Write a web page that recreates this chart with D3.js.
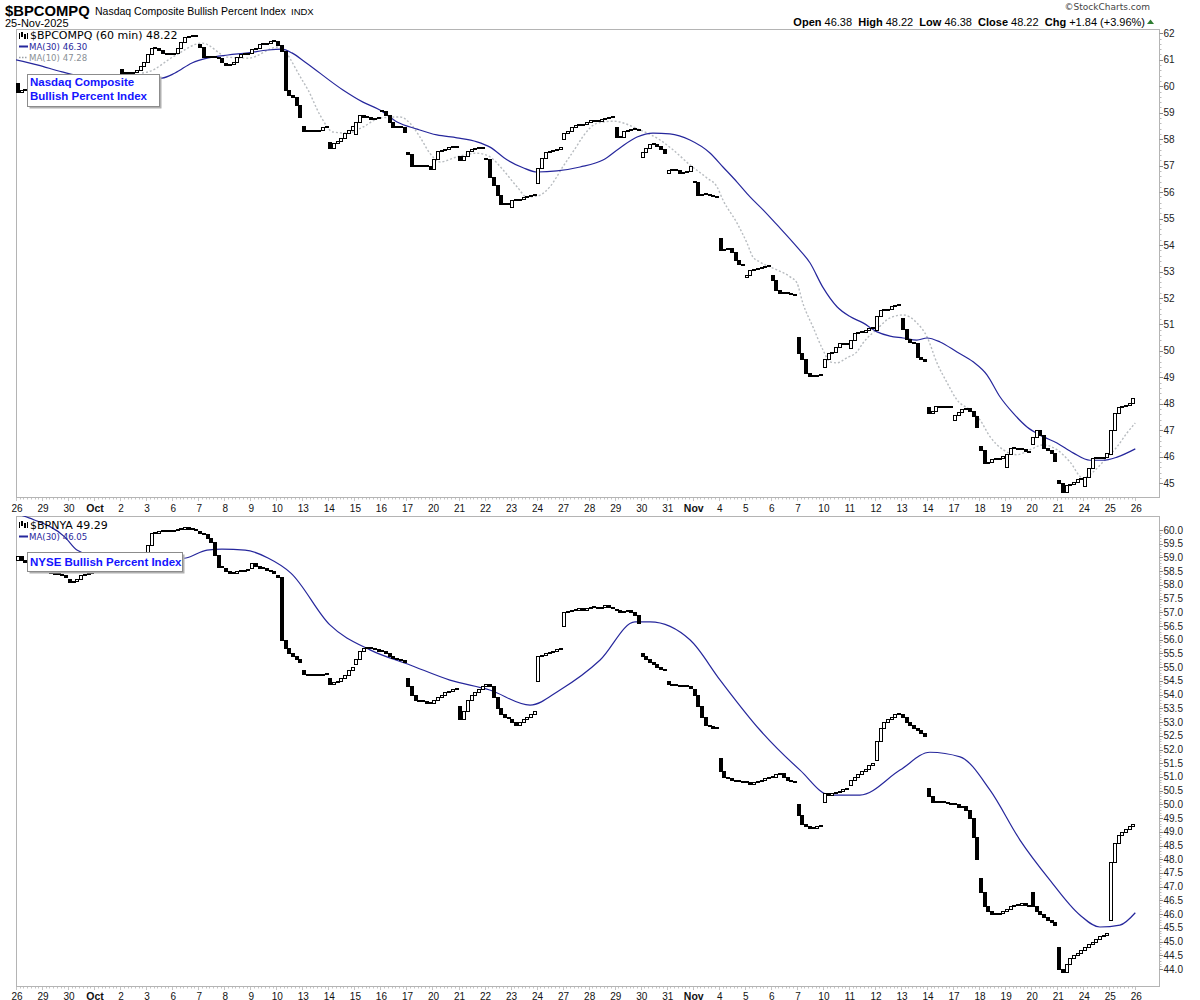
<!DOCTYPE html>
<html><head><meta charset="utf-8">
<script src="https://cdn.jsdelivr.net/npm/d3@7"></script>
<style>
body{margin:0;background:#fff;}
svg{display:block;}
</style></head><body>
<svg id="c" width="1200" height="1000"></svg>
<script>
// ---------------- DATA ----------------
const dayLabels = ["26","29","30","Oct","2","3","6","7","8","9","10","13","14","15","16","17","20","21","22","23","24","27","28","29","30","31","Nov","4","5","6","7","10","11","12","13","14","17","18","19","20","21","24","25","26"];
const boldLabels = ["Oct","Nov"];
const barsPerDay = 7;

const compqTicks = [45,46,47,48,49,50,51,52,53,54,55,56,57,58,59,60,61,62];
const nyaTicks = ["44.0","44.5","45.0","45.5","46.0","46.5","47.0","47.5","48.0","48.5","49.0","49.5","50.0","50.5","51.0","51.5","52.0","52.5","53.0","53.5","54.0","54.5","55.0","55.5","56.0","56.5","57.0","57.5","58.0","58.5","59.0","59.5","60.0"];

// Nasdaq Composite BPI, 60-min bars: first open of each day, then the 7 hourly closes
const compqOpen = [60.12,60.15,60.1,60.25,60.65,60.9,61.22,61.6,60.88,61.25,61.7,58.5,57.9,58.2,59.05,57.5,56.87,57.36,57.3,55.45,56.36,58.0,58.66,58.47,57.34,56.71,56.42,54.25,52.8,52.87,50.54,49.38,50.1,50.79,51.23,47.89,47.39,46.41,45.6,46.48,45.12,44.9,46.1];
const compqClose = [
 [59.8,59.85,59.9,59.95,60.0,60.05,60.1],
 [60.1,60.05,60.0,60.0,60.05,60.1,60.15],
 [60.05,60.0,60.05,60.1,60.15,60.2,60.25],
 [60.3,60.3,60.35,60.35,60.4,60.4,60.45],
 [60.5,60.52,60.5,60.55,60.6,60.76,60.9],
 [61.2,61.45,61.45,61.38,61.25,61.2,61.25],
 [61.27,61.43,61.68,61.85,61.9,61.9,61.88],
 [61.47,61.12,61.12,61.1,61.1,61.05,60.9],
 [60.8,60.85,60.93,61.1,61.2,61.2,61.25],
 [61.4,61.45,61.6,61.6,61.62,61.7,61.72],
 [61.55,61.35,59.86,59.67,59.6,59.3,58.83],
 [58.3,58.3,58.32,58.32,58.35,58.45,58.5],
 [57.67,57.85,57.95,58.03,58.25,58.35,58.5],
 [58.65,58.92,58.85,58.84,58.78,58.8,58.82],
 [59.08,58.91,58.66,58.47,58.48,58.45,58.28],
 [57.45,57.0,57.0,56.98,56.97,56.97,56.87],
 [57.24,57.55,57.6,57.62,57.7,57.72,57.75],
 [57.2,57.35,57.55,57.62,57.65,57.65,57.66],
 [57.25,56.58,56.27,55.89,55.57,55.6,55.55],
 [55.7,55.72,55.75,55.8,55.85,55.9,55.92],
 [56.9,57.28,57.53,57.55,57.6,57.62,57.72],
 [58.25,58.3,58.47,58.52,58.55,58.57,58.66],
 [58.72,58.68,58.7,58.78,58.8,58.85,58.88],
 [58.1,58.08,58.3,58.36,58.38,58.4,58.36],
 [57.53,57.68,57.8,57.8,57.75,57.63,57.47],
 [56.84,56.88,56.85,56.74,56.76,56.78,56.98],
 [56.38,55.9,55.92,55.92,55.9,55.85,55.8],
 [53.81,53.85,53.88,53.72,53.45,53.3,53.25],
 [52.88,53.05,53.1,53.12,53.18,53.22,53.25],
 [52.68,52.3,52.2,52.2,52.18,52.15,52.1],
 [49.91,49.68,49.15,49.06,49.07,49.08,49.08],
 [49.68,49.93,49.95,50.14,50.29,50.28,50.3],
 [50.4,50.66,50.73,50.72,50.8,50.86,50.88],
 [51.32,51.55,51.55,51.6,51.7,51.75,51.77],
 [50.82,50.44,50.35,50.29,49.78,49.7,49.62],
 [47.64,47.75,47.92,47.9,47.9,47.9,47.88],
 [47.58,47.7,47.79,47.85,47.72,47.53,47.14],
 [46.26,45.78,45.8,45.9,45.92,45.95,46.05],
 [46.11,46.32,46.35,46.3,46.28,46.22,46.2],
 [46.76,47.0,46.82,46.32,46.25,46.15,45.85],
 [45.02,44.68,44.94,44.97,45.05,45.15,45.18],
 [45.22,45.57,45.95,45.94,45.96,45.98,46.13],
 [47.0,47.67,47.89,47.93,47.95,48.02,48.22]
];
// [trading day position, value]
const compqMA30 = [[0,61.0],[0.85,60.8],[1.77,60.54],[3.5,60.25],[5.61,60.31],[6.11,60.5],[6.76,60.88],[7.38,61.07],[8.14,61.18],[8.91,61.26],[9.68,61.37],[10.22,61.4],[10.6,61.26],[11.1,60.92],[12.56,59.86],[13.33,59.4],[13.98,59.1],[14.64,58.65],[15.41,58.38],[16.17,58.16],[16.94,58.05],[17.71,57.9],[18.21,57.7],[18.86,57.22],[19.48,56.92],[20.02,56.76],[20.78,56.8],[21.67,56.95],[22.55,57.21],[23.2,57.67],[23.86,58.08],[24.47,58.23],[25.12,58.2],[25.89,57.97],[26.66,57.48],[27.16,56.95],[27.7,56.38],[28.2,55.82],[28.7,55.33],[29.24,54.76],[30.0,53.93],[30.5,53.33],[31.0,52.4],[31.54,51.67],[32.04,51.3],[32.54,51.06],[33.08,50.72],[33.58,50.56],[34.08,50.49],[34.61,50.41],[35.0,50.49],[35.5,50.34],[36.15,49.96],[36.77,49.59],[37.3,49.1],[37.8,48.27],[38.3,47.66],[38.84,47.13],[39.34,46.82],[39.99,46.52],[40.61,46.15],[41.26,45.87],[41.76,45.87],[42.3,45.99],[43.0,46.3]];
const compqMA10 = [[4.84,60.5],[5.07,60.54],[6.1,61.15],[7.15,61.63],[8.14,61.1],[8.91,61.06],[10.07,61.48],[10.99,60.24],[11.22,59.86],[11.68,58.91],[12.18,58.27],[12.72,58.23],[13.33,58.46],[13.98,58.8],[14.75,58.84],[15.14,58.6],[15.52,58.08],[15.9,57.47],[16.29,57.14],[16.94,57.33],[17.71,57.47],[18.21,57.33],[18.71,56.84],[19.25,56.2],[19.63,55.82],[20.02,55.85],[20.51,56.2],[21.01,56.96],[21.55,57.75],[21.78,58.1],[22.32,58.6],[22.94,58.68],[23.97,58.35],[24.74,57.97],[25.24,57.6],[25.89,57.03],[26.55,56.53],[26.93,56.2],[27.16,55.7],[27.7,54.83],[28.08,54.08],[28.31,53.55],[28.58,53.36],[29.24,53.06],[29.74,52.8],[30.0,52.57],[30.23,51.8],[30.62,50.9],[31.0,50.04],[31.27,49.59],[31.54,49.55],[31.92,49.74],[32.31,49.97],[32.54,50.3],[33.08,50.83],[33.58,51.25],[34.08,51.36],[34.61,51.06],[35.0,50.53],[35.38,49.55],[35.77,48.8],[36.15,48.15],[36.65,47.77],[37.03,47.4],[37.42,46.76],[37.92,46.27],[38.46,46.08],[38.96,46.27],[39.45,46.45],[39.99,46.27],[40.49,45.81],[40.99,45.2],[41.38,45.43],[41.76,45.81],[42.3,46.38],[42.68,46.9],[43.0,47.28]];

// NYSE BPI
const nyaOpen = [58.9,58.6,58.2,58.5,58.6,58.7,59.95,59.95,58.6,58.6,58.35,54.9,54.6,55.1,55.6,54.6,53.7,53.6,54.3,53.1,54.5,56.5,57.15,57.1,55.5,54.5,54.2,51.7,50.8,51.0,50.0,50.1,50.7,51.6,53.3,50.6,50.0,47.3,46.1,46.8,44.8,44.7,45.8];
const nyaClose = [
 [59.05,58.9,58.85,58.8,58.75,58.7,58.7],
 [58.55,58.5,58.45,58.4,58.4,58.35,58.3],
 [58.1,58.15,58.2,58.35,58.4,58.45,58.5],
 [58.55,58.6,58.6,58.6,58.62,58.62,58.65],
 [58.55,58.55,58.6,58.6,58.65,58.65,58.7],
 [59.45,59.9,59.9,59.95,59.95,59.95,59.95],
 [60.0,60.05,60.05,60.1,60.05,60.05,60.0],
 [59.9,59.85,59.7,59.55,59.1,58.65,58.65],
 [58.5,58.45,58.45,58.5,58.5,58.55,58.55],
 [58.8,58.7,58.6,58.6,58.55,58.5,58.45],
 [58.3,56.0,55.7,55.5,55.4,55.3,55.2],
 [54.75,54.7,54.7,54.7,54.72,54.75,54.75],
 [54.4,54.45,54.5,54.6,54.7,54.9,55.0],
 [55.3,55.6,55.7,55.75,55.7,55.65,55.6],
 [55.6,55.5,55.4,55.35,55.3,55.25,55.2],
 [54.3,54.0,53.8,53.75,53.75,53.7,53.7],
 [53.8,53.9,54.0,54.1,54.15,54.2,54.25],
 [53.1,53.4,53.8,54.0,54.1,54.2,54.3],
 [54.4,54.3,53.9,53.5,53.3,53.2,53.15],
 [53.0,52.9,53.0,53.1,53.2,53.3,53.4],
 [55.4,55.45,55.5,55.55,55.6,55.65,55.7],
 [57.0,57.05,57.1,57.1,57.15,57.1,57.15],
 [57.2,57.2,57.15,57.2,57.25,57.2,57.15],
 [57.1,57.0,57.05,57.1,57.0,56.9,56.6],
 [55.4,55.3,55.2,55.1,55.0,54.95,54.9],
 [54.4,54.35,54.35,54.3,54.3,54.3,54.25],
 [54.0,53.6,53.2,52.9,52.85,52.8,52.8],
 [51.2,51.0,50.95,50.9,50.85,50.85,50.8],
 [50.8,50.75,50.8,50.85,50.9,50.95,51.0],
 [51.0,51.1,51.15,51.0,50.9,50.85,50.8],
 [49.6,49.3,49.2,49.15,49.15,49.2,49.25],
 [50.4,50.35,50.4,50.45,50.5,50.55,50.6],
 [50.9,51.0,51.1,51.2,51.3,51.45,51.5],
 [52.3,52.8,53.0,53.1,53.2,53.3,53.3],
 [53.2,53.0,52.9,52.8,52.7,52.6,52.5],
 [50.3,50.1,50.1,50.1,50.1,50.05,50.0],
 [50.0,49.9,49.95,49.8,49.5,48.8,48.0],
 [46.8,46.3,46.1,46.0,46.0,46.05,46.1],
 [46.2,46.3,46.35,46.35,46.4,46.35,46.3],
 [46.3,46.1,46.0,45.9,45.8,45.7,45.6],
 [44.0,43.9,44.2,44.4,44.5,44.6,44.7],
 [44.8,44.9,45.0,45.1,45.2,45.25,45.3],
 [47.9,48.6,48.9,49.0,49.1,49.2,49.29]
];
const nyaMA30 = [[0,60.6],[0.5,60.44],[1.88,59.74],[2.34,59.27],[4.0,58.8],[6.53,58.98],[7.34,59.27],[7.91,59.3],[8.8,59.27],[9.68,58.98],[10.56,58.43],[12.06,56.54],[13.6,55.63],[15.14,55.08],[16.67,54.53],[18.2,54.17],[19.75,53.62],[20.9,54.17],[22.44,55.26],[23.78,56.65],[24.36,56.65],[25.9,55.99],[27.05,54.53],[28.58,52.71],[30.12,51.25],[31.27,50.34],[32.42,50.34],[33.96,51.25],[35.11,51.9],[36.27,51.73],[37.42,50.52],[38.57,48.7],[39.72,47.24],[40.87,45.97],[41.64,45.53],[42.41,45.6],[43.0,46.05]];

// ---------------- DRAWING ----------------
const svg = d3.select("#c");
const FONT = "'Liberation Sans', Arial, sans-serif";
const VFONT = "'DejaVu Sans', Verdana, sans-serif";
const nBars = dayLabels.length - 1;
const x = d3.scaleLinear().domain([0, nBars * barsPerDay]).range([16, 1135.3]);

const panels = [
  {id:"p1", top:29, bottom:497, left:16, right:1159,
   y: d3.scaleLinear().domain([45,62]).range([483.3,33.3]),
   opens: compqOpen, closes: compqClose, ma30: compqMA30, ma10: compqMA10,
   ticks: compqTicks.map(v=>({v:+v, t:String(v)})), minor:0.2, labelY:511.5},
  {id:"p2", top:516, bottom:986, left:16, right:1159,
   y: d3.scaleLinear().domain([44,60]).range([969,530]),
   opens: nyaOpen, closes: nyaClose, ma30: nyaMA30, ma10: null,
   ticks: nyaTicks.map(t=>({v:+t, t})), minor:0.1, labelY:999.5}
];

panels.forEach(P => {
  const g = svg.append("g");
  g.append("clipPath").attr("id","clip"+P.id).append("rect")
    .attr("x",P.left).attr("y",P.top).attr("width",P.right-P.left).attr("height",P.bottom-P.top);

  g.append("rect").attr("x",P.left+0.5).attr("y",P.top+0.5)
    .attr("width",P.right-P.left).attr("height",P.bottom-P.top)
    .attr("fill","none").attr("stroke","#b4b4b4").attr("stroke-width",1);

  const ax = g.append("g");
  const minors = d3.range(P.y.domain()[0], P.y.domain()[1]+1e-6, P.minor);
  ax.selectAll("line.mn").data(minors).join("line")
    .attr("x1",P.right+0.5).attr("x2",P.right+2.5)
    .attr("y1",d=>Math.round(P.y(d))+0.5).attr("y2",d=>Math.round(P.y(d))+0.5)
    .attr("stroke","#bbb");
  ax.selectAll("line.mj").data(P.ticks).join("line")
    .attr("x1",P.right+0.5).attr("x2",P.right+4)
    .attr("y1",d=>Math.round(P.y(d.v))+0.5).attr("y2",d=>Math.round(P.y(d.v))+0.5)
    .attr("stroke","#888");
  ax.selectAll("text").data(P.ticks).join("text")
    .attr("x",P.right+4.5).attr("y",d=>P.y(d.v)+3.5)
    .attr("font-family",FONT).attr("font-size","10px").attr("fill","#222")
    .text(d=>d.t);

  const bx = d3.range(0, nBars*barsPerDay+1);
  g.selectAll("line.xt").data(bx).join("line")
    .attr("x1",d=>Math.round(x(d))+0.5).attr("x2",d=>Math.round(x(d))+0.5)
    .attr("y1",P.bottom+1).attr("y2",d=> d%barsPerDay===0 ? P.bottom+4 : P.bottom+2.5)
    .attr("stroke","#c4c4c4");

  g.selectAll("text.xl").data(dayLabels).join("text")
    .attr("x",(d,i)=>x(i*barsPerDay)+1).attr("y",P.labelY)
    .attr("text-anchor","middle")
    .attr("font-family",FONT)
    .attr("font-size",d=>boldLabels.includes(d)?"10.5px":"10px")
    .attr("font-weight",d=>boldLabels.includes(d)?"bold":"normal")
    .attr("fill","#111")
    .text(d=>d);

  const pg = g.append("g").attr("clip-path",`url(#clip${P.id})`);

  const line = d3.line().x(d=>x(d[0]*barsPerDay)).y(d=>P.y(d[1])).curve(d3.curveMonotoneX);
  if (P.ma10) {
    pg.append("path").attr("d",line(P.ma10)).attr("fill","none")
      .attr("stroke","#b8bcc0").attr("stroke-width",1.4).attr("stroke-dasharray","2,2");
  }
  pg.append("path").attr("d",line(P.ma30)).attr("fill","none")
    .attr("stroke","#26279c").attr("stroke-width",1.2);

  const bars = [];
  P.closes.forEach((day,d)=>day.forEach((c,k)=>{
    const o = k===0 ? P.opens[d] : day[k-1];
    bars.push({i:d*barsPerDay+k, o, c});
  }));
  const cg = pg.append("g").attr("shape-rendering","crispEdges");
  bars.forEach(b=>{
    const xc = Math.round(x(b.i+0.5));
    const yo = Math.round(P.y(b.o)), yc = Math.round(P.y(b.c));
    const h = Math.abs(yo-yc);
    if (h < 1) {
      cg.append("rect").attr("x",xc-2).attr("y",yc-1).attr("width",4).attr("height",2).attr("fill","#000");
    } else if (b.c > b.o) {
      cg.append("rect").attr("x",xc-1.5).attr("y",yc+0.5).attr("width",3).attr("height",h)
        .attr("fill","#fff").attr("stroke","#000").attr("stroke-width",1);
    } else {
      cg.append("rect").attr("x",xc-2).attr("y",yo).attr("width",4).attr("height",Math.max(2,h+1)).attr("fill","#000");
    }
  });
});

function noteBox(x0,y0,w,h,lines,base){
  svg.append("rect").attr("x",x0+2.5).attr("y",y0+2.5).attr("width",w).attr("height",h).attr("fill","#b0b0b0");
  svg.append("rect").attr("x",x0+0.5).attr("y",y0+0.5).attr("width",w).attr("height",h)
    .attr("fill","#fff").attr("stroke","#8c8c8c");
  lines.forEach((t,i)=>svg.append("text").attr("x",x0+3).attr("y",base+i*13.5)
    .attr("font-family",FONT).attr("font-weight","bold").attr("font-size","11.5px")
    .attr("fill","#1414ff").text(t));
}
noteBox(27,74,132,32,["Nasdaq Composite","Bullish Percent Index"],86);
noteBox(27,552,155,19,["NYSE Bullish Percent Index"],566);

function icon(x0,y0){
  const gi = svg.append("g").attr("shape-rendering","crispEdges");
  gi.append("rect").attr("x",x0).attr("y",y0+1).attr("width",1).attr("height",6).attr("fill","#000");
  gi.append("rect").attr("x",x0+2).attr("y",y0).attr("width",2).attr("height",5).attr("fill","#000");
  gi.append("rect").attr("x",x0+5).attr("y",y0+2).attr("width",2).attr("height",5).attr("fill","#000");
  gi.append("rect").attr("x",x0+8).attr("y",y0+1).attr("width",1).attr("height",6).attr("fill","#000");
}
icon(19,32);
svg.append("text").attr("x",30).attr("y",39).attr("font-family",VFONT).attr("font-size","11px").attr("fill","#000").text("$BPCOMPQ (60 min) 48.22");
svg.append("line").attr("x1",19).attr("x2",28).attr("y1",46.5).attr("y2",46.5).attr("stroke","#26279c").attr("stroke-width",2);
svg.append("text").attr("x",29).attr("y",49.5).attr("font-family",VFONT).attr("font-size","8.6px").attr("fill","#26279c").text("MA(30) 46.30");
svg.append("line").attr("x1",19).attr("x2",28).attr("y1",57.5).attr("y2",57.5).attr("stroke","#9aa0a6").attr("stroke-width",1.5).attr("stroke-dasharray","1.5,1.5");
svg.append("text").attr("x",29).attr("y",60.8).attr("font-family",VFONT).attr("font-size","8.6px").attr("fill","#8a9096").text("MA(10) 47.28");

icon(19,521);
svg.append("text").attr("x",30).attr("y",528.5).attr("font-family",VFONT).attr("font-size","11px").attr("fill","#000").text("$BPNYA 49.29");
svg.append("line").attr("x1",19).attr("x2",28).attr("y1",536.5).attr("y2",536.5).attr("stroke","#26279c").attr("stroke-width",2);
svg.append("text").attr("x",29).attr("y",539.8).attr("font-family",VFONT).attr("font-size","8.6px").attr("fill","#26279c").text("MA(30) 46.05");

// header
svg.append("text").attr("x",5).attr("y",15.5).attr("font-family",FONT).attr("font-weight","bold").attr("font-size","14.8px").text("$BPCOMPQ");
svg.append("text").attr("x",95).attr("y",14.5).attr("font-family",FONT).attr("font-size","10.5px").text("Nasdaq Composite Bullish Percent Index");
svg.append("text").attr("x",291).attr("y",14.5).attr("font-family",FONT).attr("font-size","9.5px").text("INDX");
svg.append("text").attr("x",5).attr("y",26.5).attr("font-family",FONT).attr("font-size","11px").text("25-Nov-2025");
svg.append("text").attr("x",1150).attr("y",10).attr("text-anchor","end").attr("font-family",VFONT).attr("font-size","9px").attr("fill","#444").text("©StockCharts.com");
const hd = svg.append("text").attr("x",1145).attr("y",26).attr("text-anchor","end").attr("font-family",FONT).attr("font-size","11px").attr("fill","#000");
[["Open",1],[" 46.38  ",0],["High",1],[" 48.22  ",0],["Low",1],[" 46.38  ",0],["Close",1],[" 48.22  ",0],["Chg",1],[" +1.84 (+3.96%)",0]]
  .forEach(([t,b])=>hd.append("tspan").attr("font-weight",b?"bold":"normal").attr("xml:space","preserve").text(t));
svg.append("path").attr("d","M1147,24 L1150.5,19.5 L1154,24 Z").attr("fill","#2e7d32");
</script>
</body></html>
